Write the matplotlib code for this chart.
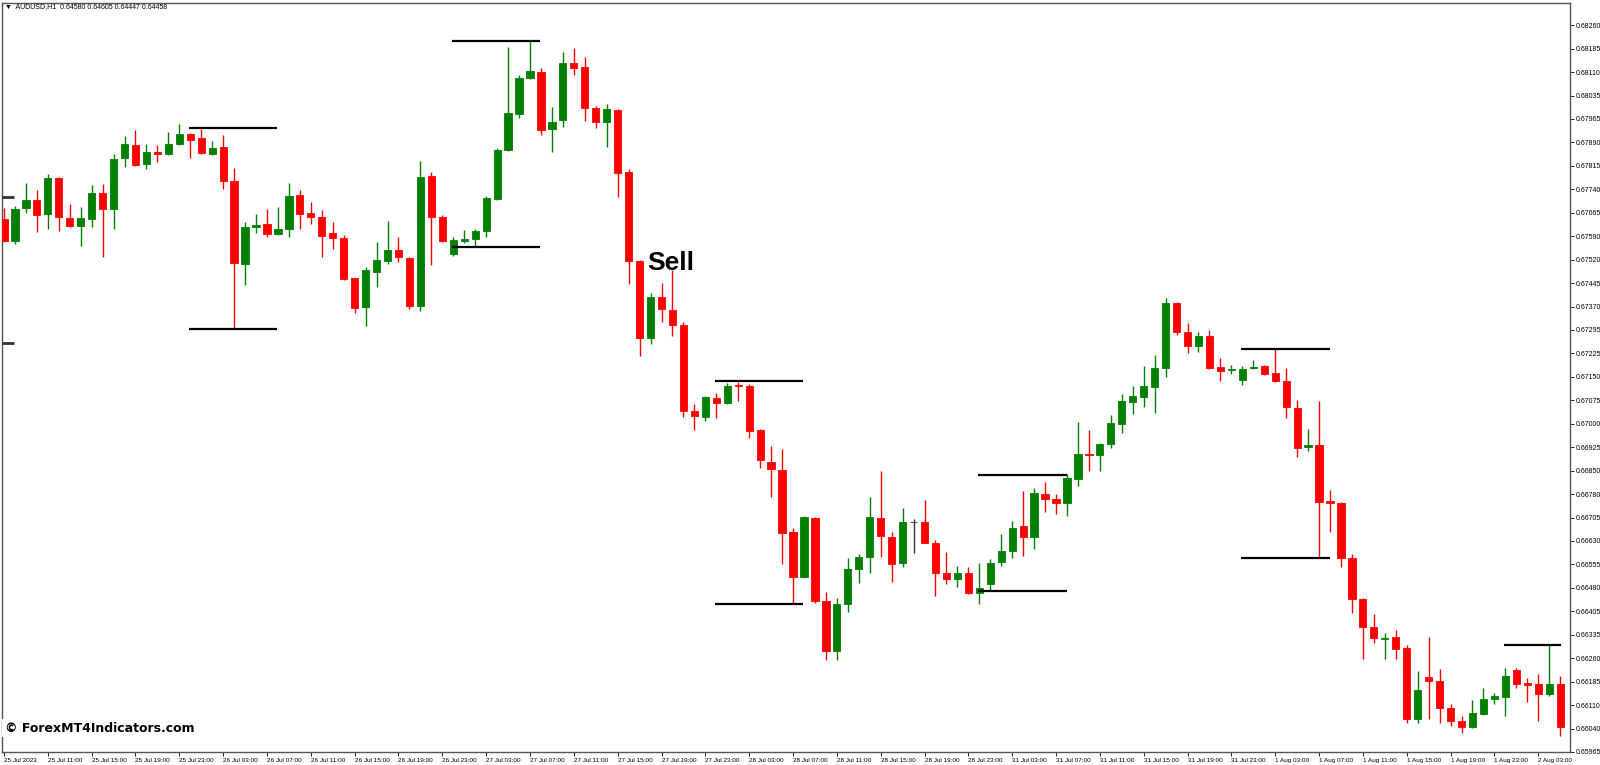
import matplotlib
matplotlib.use("Agg")
import matplotlib.pyplot as plt
import numpy as np

# OHLC in price points (1e-5)
opens = [67648,67578,67682,67708,67663,67777,67651,67625,67648,67730,67679,67840,67881,67821,67859,67853,67884,67916,67903,67853,
         67875,67768,67506,67622,67632,67600,67616,67723,67667,67654,67603,67588,67461,67370,67480,67515,67550,67524,67373,67783,
         67654,67537,67578,67584,67610,67711,67865,67979,68093,68112,67932,67960,68140,68127,67998,67954,67992,67796,67515,67272,
         67401,67360,67313,67041,67022,67082,67067,67124,67120,66981,66881,66855,66660,66517,66704,66442,66284,66432,66543,66581,
         66704,66644,66562,66691,66691,66625,66530,66511,66530,66467,66495,66565,66600,66678,66644,66779,66764,66751,66827,66906,
         66903,66937,67000,67070,67086,67117,67177,67382,67291,67247,67278,67180,67171,67139,67177,67184,67161,67136,67051,66928,
         66934,66756,66751,66577,66448,66360,66322,66328,66293,66069,66202,66189,66104,66063,66044,66085,66132,66139,66224,66182,
         66180,66148,66180]
highs = [67682,67689,67761,67739,67790,67780,67695,67686,67755,67758,67853,67910,67929,67884,67881,67922,67947,67919,67932,67894,
         67913,67809,67638,67663,67679,67686,67761,67739,67701,67676,67638,67597,67463,67496,67575,67641,67591,67528,67831,67796,
         67660,67591,67613,67616,67720,67872,68191,68102,68210,68124,68001,68175,68187,68159,68004,68011,67995,67805,67518,67414,
         67446,67487,67322,67064,67089,67098,67130,67133,67127,66984,66931,66922,66672,66710,66707,66470,66451,66577,66590,66770,
         66852,66660,66735,66700,66760,66634,66596,66552,66549,66562,66574,66653,66694,66789,66798,66817,66779,66843,67007,66981,
         66941,67029,67095,67120,67184,67218,67398,67386,67319,67291,67297,67209,67187,67184,67203,67187,67237,67177,67076,66985,
         67073,66792,66754,66590,66451,66401,66341,66350,66303,66221,66328,66227,66117,66079,66129,66167,66151,66230,66230,66199,
         66211,66303,66205]
lows = [67575,67569,67667,67607,67616,67610,67622,67562,67622,67528,67616,67812,67815,67805,67828,67850,67881,67840,67853,67850,
        67742,67300,67439,67603,67591,67597,67591,67616,67632,67528,67553,67455,67351,67310,67433,67506,67512,67363,67357,67502,
        67575,67531,67572,67559,67591,67708,67862,67966,68090,67913,67859,67938,68102,67957,67935,67875,67717,67442,67215,67253,
        67322,67278,67022,66981,67010,67019,67064,67073,66956,66862,66770,66559,66435,66514,66435,66255,66255,66407,66498,66530,
        66581,66502,66549,66593,66625,66457,66495,66486,66464,66432,66476,66552,66577,66584,66606,66723,66716,66710,66805,66852,
        66852,66925,66972,67032,67054,67035,67149,67281,67225,67228,67174,67136,67158,67124,67174,67155,67133,67019,66896,66915,
        66577,66660,66549,66404,66259,66309,66259,66259,66057,66057,66069,66057,66047,66025,66041,66082,66117,66079,66167,66123,
        66063,66142,66015]
closes = [67578,67679,67708,67660,67777,67654,67625,67651,67730,67679,67837,67884,67818,67859,67853,67884,67916,67897,67856,67872,
          67768,67509,67622,67629,67600,67616,67720,67663,67654,67594,67588,67458,67367,67487,67518,67550,67528,67373,67780,67654,
          67578,67581,67584,67610,67714,67865,67982,68093,68115,67929,67954,68140,68124,67998,67954,67995,67793,67515,67272,67401,
          67363,67313,67041,67026,67086,67067,67120,67120,66978,66887,66858,66656,66517,66707,66442,66284,66432,66543,66581,66707,
          66647,66559,66691,66690,66625,66530,66511,66530,66467,66483,66562,66600,66672,66644,66783,66764,66751,66830,66906,66903,
          66937,67004,67073,67089,67120,67177,67382,67291,67247,67278,67177,67168,67174,67174,67180,67158,67136,67054,66925,66934,
          66754,66752,66577,66448,66360,66325,66325,66290,66069,66161,66189,66104,66063,66044,66088,66132,66142,66205,66180,66178,
          66148,66180,66044]

# support/resistance marker lines: (start bar, end bar, price points)
level_start = [16.9, 16.9, 40.9, 40.9, 64.9, 64.9, 88.9, 88.9, 112.9, 112.9, 136.9]
level_end   = [24.9, 24.9, 48.9, 48.9, 72.9, 72.9, 97.0, 97.0, 121.0, 121.0, 142.1]
level_price = [67935, 67300, 68210, 67559, 67136, 66432, 66839, 66473, 67237, 66577, 66303]
edge_marks = [67717, 67256]

ytick_labels = ["0.68260","0.68185","0.68110","0.68035","0.67965","0.67890","0.67815","0.67740","0.67665","0.67590",
                "0.67520","0.67445","0.67370","0.67295","0.67225","0.67150","0.67075","0.67000","0.66925","0.66850",
                "0.66780","0.66705","0.66630","0.66555","0.66480","0.66405","0.66335","0.66260","0.66185","0.66110",
                "0.66040","0.65965"]
xtick_labels = ["25 Jul 2023","25 Jul 11:00","25 Jul 15:00","25 Jul 19:00","25 Jul 23:00","26 Jul 03:00","26 Jul 07:00",
                "26 Jul 11:00","26 Jul 15:00","26 Jul 19:00","26 Jul 23:00","27 Jul 03:00","27 Jul 07:00","27 Jul 11:00",
                "27 Jul 15:00","27 Jul 19:00","27 Jul 23:00","28 Jul 03:00","28 Jul 07:00","28 Jul 11:00","28 Jul 15:00",
                "28 Jul 19:00","28 Jul 23:00","31 Jul 03:00","31 Jul 07:00","31 Jul 11:00","31 Jul 15:00","31 Jul 19:00",
                "31 Jul 23:00","1 Aug 03:00","1 Aug 07:00","1 Aug 11:00","1 Aug 15:00","1 Aug 19:00","1 Aug 23:00","2 Aug 03:00"]

o = np.array(opens) / 1e5
h = np.array(highs) / 1e5
l = np.array(lows) / 1e5
c = np.array(closes) / 1e5
n = len(o)
x = np.arange(n)

fig = plt.figure(figsize=(16, 7.65), dpi=100)
ax = fig.add_axes([2/1600, 13/765, 1568/1600, 749/765])

GREEN, RED = "#008000", "#FF0000"
for i in range(n):
    if abs(c[i] - o[i]) < 1.5e-5 and i == 83:
        col = "#333333"
    else:
        col = GREEN if c[i] >= o[i] else RED
    ax.vlines(x[i], l[i], h[i], color=col, lw=1.0, zorder=2)
    bot, top = min(o[i], c[i]), max(o[i], c[i])
    hgt = max(top - bot, 1.2e-5)
    ax.bar(x[i], hgt, bottom=bot, width=0.66, color=col, edgecolor=col, lw=0.6, zorder=3)

for s, e, p in zip(level_start, level_end, level_price):
    ax.hlines(p / 1e5, s, e, color="black", lw=1.6, zorder=4)
for p in edge_marks:
    ax.hlines(p / 1e5, -0.2, 0.9, color="#333333", lw=2, zorder=4)

ax.text(58.7, 0.67509, "Sell", fontsize=19, fontweight="bold", family=["Liberation Sans", "DejaVu Sans"],
        va="center", ha="left", color="black", zorder=5)

ax.set_xlim(-0.18, 142.9)
ax.set_ylim(0.65965, 0.68330)

yt = [0.68260 - i * (0.02295 / 31) for i in range(len(ytick_labels))]
ax.yaxis.tick_right()
ax.set_yticks(yt)
ax.set_yticklabels(ytick_labels, fontsize=5, family=["Liberation Sans", "DejaVu Sans"])
ax.tick_params(axis="y", length=3, width=0.6, pad=1, colors="black")
ax.set_xticks(np.arange(0, 4 * len(xtick_labels), 4))
ax.set_xticklabels(xtick_labels, fontsize=4.6, family=["Liberation Sans Narrow", "Liberation Sans", "DejaVu Sans"], ha="left")
ax.tick_params(axis="x", length=3, width=0.6, pad=1)
for sp in ax.spines.values():
    sp.set_color("#555555")
    sp.set_linewidth(1)

fig.text(5/1600, 1 - 7/765, "\u25bc  AUDUSD,H1  0.64580 0.64605 0.64447 0.64458", fontsize=5,
         family=["Liberation Sans", "DejaVu Sans"], va="center", ha="left")
fig.text(5/1600, 1 - 728/765, "\u00a9 ForexMT4Indicators.com", fontsize=9, fontweight="bold",
         va="center", ha="left", bbox=dict(facecolor="white", edgecolor="none", pad=2), zorder=10)

fig.savefig("out.png", dpi=100, facecolor="white")
